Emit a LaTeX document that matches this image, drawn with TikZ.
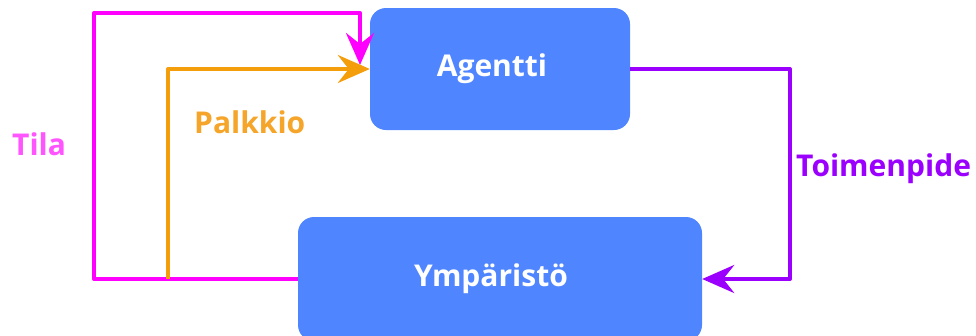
\documentclass[tikz,border=0pt]{standalone}
\usepackage{fontspec}
\setmainfont{Open Sans}
\usetikzlibrary{arrows.meta}
\definecolor{boxblue}{HTML}{4F86FF}
\definecolor{statecol}{HTML}{FF00FF}
\definecolor{statetext}{HTML}{FF55FF}
\definecolor{rewardcol}{HTML}{F59E0B}
\definecolor{rewardtext}{HTML}{F5A52A}
\definecolor{actioncol}{HTML}{9B00FF}
\tikzset{
  block/.style={fill=boxblue, rounded corners=16pt, inner sep=0pt,
    text=white, font=\bfseries\fontsize{30}{34}\selectfont},
  flow/.style={line width=4pt, line join=round,
    -{Stealth[length=32pt, width=28pt, inset=11pt]}},
  lbl/.style={font=\bfseries\fontsize{30}{34}\selectfont, inner sep=0pt, anchor=base west}
}
\begin{document}
\begin{tikzpicture}[x=1pt, y=-1pt]
  \useasboundingbox (0,0) rectangle (976,335);
  % the two blocks
  \node[block, minimum width=260pt, minimum height=122pt] (agent) at (500,69) {Agentti\hspace*{16pt}};
  \node[block, minimum width=404pt, minimum height=124pt] (env) at (500,279) {Ympäristö\hspace*{18pt}};
  % end point of the state loop, at the agent's upper left corner
  \coordinate (stateTarget) at (360,65);
  % state loop
  \draw[flow, statecol] (env.west) -- (94,279) -- (94,13) -- (360,13) -- (stateTarget);
  % reward loop
  \coordinate (rewardStart) at (168,279);
  \draw[flow, rewardcol] (rewardStart) -- (168,69) -- (agent.west);
  % action loop
  \draw[flow, actioncol] (agent.east) -- (790,69) -- (790,279) -- (env.east);
  % labels
  \node[lbl, text=statetext] (tila) at (12,155) {Tila};
  \node[lbl, text=rewardtext] (palkkio) at (194,133) {Palkkio};
  \node[lbl, text=actioncol] (toimenpide) at (796,176) {Toimenpide};
\end{tikzpicture}
\end{document}
